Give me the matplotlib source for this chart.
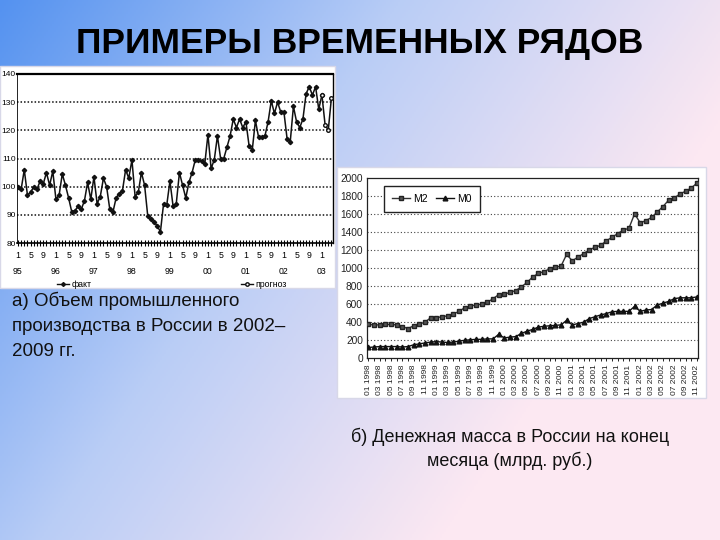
import numpy as np
import matplotlib
matplotlib.use("Agg")
import matplotlib.pyplot as plt
from matplotlib.patches import Rectangle
from matplotlib.lines import Line2D

plt.rcParams['font.family'] = ['Liberation Sans', 'DejaVu Sans']

# ---------- data: industrial production index (Jan 1995 ...) ----------
prod_fact = [100, 99, 106, 97, 98, 100, 99, 102, 101, 105,
             100.5, 105.5, 95.5, 97, 104.5, 100.5, 96, 91, 91.5, 93,
             92, 95, 101.5, 95.5, 103.5, 94, 96.5, 103, 100, 92,
             91, 96, 97.5, 98.5, 106, 103, 109.5, 96.5, 98, 105,
             100.5, 89.5, 88.5, 87.5, 86, 84, 94, 93.5, 102, 93,
             94, 105, 100.5, 96, 101.5, 105, 109.5, 109.5, 109, 108,
             118.5, 106.5, 109.5, 118, 110, 110, 114, 118, 124, 121,
             124, 121, 123, 114.5, 113, 123.5, 117.5, 117.5, 118, 123,
             130.5, 126, 130, 126.5, 126.5, 117, 116, 128.5, 123, 121,
             124, 133, 135.5, 132.5, 135.5, 127.5, 132.5]
prod_forecast = [132.5, 122, 120, 131.5]   # starts at last fact point
month_ticks = ["1", "5", "9"]
year_labels = ["95", "96", "97", "98", "99", "00", "01", "02", "03"]

# ---------- data: money supply, bln rub (Jan 1998 ... Nov 2002) ----------
m2 = [375, 370, 370, 375, 375, 370, 350, 330, 360, 380,
      400, 450, 450, 460, 470, 490, 520, 560, 580, 590,
      600, 620, 660, 705, 710, 730, 750, 790, 840, 900,
      940, 960, 990, 1010, 1020, 1150, 1080, 1120, 1160, 1200,
      1230, 1250, 1300, 1340, 1380, 1420, 1440, 1600, 1500, 1525,
      1560, 1620, 1680, 1750, 1775, 1820, 1850, 1885, 1940]
m0 = [120, 125, 130, 130, 130, 130, 125, 130, 150, 160,
      170, 180, 185, 180, 175, 180, 190, 200, 205, 210,
      210, 215, 215, 265, 225, 235, 240, 275, 300, 320,
      345, 355, 360, 365, 370, 420, 370, 385, 400, 440,
      460, 480, 495, 515, 520, 520, 520, 575, 520, 535,
      540, 590, 610, 630, 660, 670, 670, 670, 680]
start_year = 1998

W, H = 720, 540
fig = plt.figure(figsize=(7.2, 5.4), dpi=100)

# ---------- background gradient ----------
bg = fig.add_axes([0, 0, 1, 1], zorder=-5)
bg.set_axis_off()
xx, yy = np.meshgrid(np.linspace(0, 1, 360), np.linspace(0, 1, 270))
t = np.clip(xx * 0.9 + yy * 0.45, 0, 1)
c0 = np.array([84, 146, 240]) / 255
c1 = np.array([185, 205, 246]) / 255
c2 = np.array([252, 232, 242]) / 255
img = np.where(t[..., None] < 0.5,
               c0 + (c1 - c0) * (t[..., None] / 0.5),
               c1 + (c2 - c1) * ((t[..., None] - 0.5) / 0.5))
bg.imshow(img, extent=[0, 1, 0, 1], aspect='auto', origin='upper', zorder=0)
bg.set_xlim(0, 1); bg.set_ylim(0, 1)

def px_rect(x0, y0, x1, y1):
    return [x0 / W, 1 - y1 / H, (x1 - x0) / W, (y1 - y0) / H]

# white image boxes (drawn in the background axes)
for (x0, y0, x1, y1) in [(0, 66, 335, 288), (337, 167, 706, 398)]:
    r = px_rect(x0, y0, x1, y1)
    bg.add_patch(Rectangle((r[0], r[1]), r[2], r[3], facecolor='white',
                           edgecolor='#d8d8e8', lw=1, zorder=2))

# ---------- title ----------
fig.text(360 / W, 1 - 43 / H, "ПРИМЕРЫ ВРЕМЕННЫХ РЯДОВ", ha='center', va='center',
         fontsize=25.5, fontweight='bold', color='black')

# ---------- chart 1 ----------
ax1 = fig.add_axes(px_rect(17, 74, 333, 243))
ax1.set_facecolor('none')
n_f = len(prod_fact)
xf = np.arange(n_f)
xp = np.arange(n_f - 1, n_f - 1 + len(prod_forecast))
ax1.plot(xf, prod_fact, color='#111111', lw=1.1, marker='D', ms=2.2, zorder=3)
ax1.plot(xp, prod_forecast, color='#111111', lw=1.1, marker='o', ms=2.6,
         mfc='white', mec='#111111', zorder=3)
ax1.set_ylim(80, 140)
ax1.set_xlim(-0.3, xp[-1] + 0.5)
ax1.set_yticks(range(80, 141, 10))
ax1.tick_params(axis='y', labelsize=6, length=0, pad=1)
for v in range(90, 140, 10):
    ax1.axhline(v, color='#111111', lw=1.1, ls=(0, (1, 1.3)), zorder=2)
tpos = list(range(0, xp[-1] + 1, 4))
tlab = []
for p in tpos:
    lab = month_ticks[(p % 12) // 4]
    if p % 12 == 0:
        lab = lab + "\n" + year_labels[p // 12]
    tlab.append(lab)
ax1.set_xticks(tpos)
ax1.set_xticklabels(tlab, fontsize=6.3, linespacing=1.9)
ax1.set_xticks(range(0, xp[-1] + 1), minor=True)
ax1.tick_params(axis='x', which='both', direction='inout', length=4, width=0.8, pad=4)
ax1.spines['top'].set_linewidth(1.6)
ax1.spines['bottom'].set_linewidth(1.2)
ax1.spines['left'].set_linewidth(0.6)
ax1.spines['right'].set_linewidth(1.0)
h1 = [Line2D([], [], color='#111111', lw=1, marker='D', ms=2),
      Line2D([], [], color='#111111', lw=1, marker='o', ms=2.5, mfc='white')]
ax1.legend(h1, ["факт", "прогноз"], loc='upper center', bbox_to_anchor=(0.49, -0.17),
           ncol=2, frameon=False, fontsize=6.3, columnspacing=17, handlelength=1.4,
           handletextpad=0.3)

# ---------- chart 2 ----------
ax2 = fig.add_axes(px_rect(367, 177.7, 698, 358.3))
ax2.set_facecolor('none')
xm = np.arange(len(m2))
ax2.plot(xm, m2, color='#333333', lw=1.0, marker='s', ms=3.0, mfc='#555555',
         mec='#222222', label='M2', zorder=3)
ax2.plot(xm, m0, color='#111111', lw=1.0, marker='^', ms=3.4, mfc='#111111',
         mec='#111111', label='M0', zorder=3)
ax2.set_ylim(0, 2000)
ax2.set_xlim(-0.25, len(m2) - 0.8)
ax2.set_yticks(range(0, 2001, 200))
ax2.tick_params(axis='y', labelsize=7.3, length=0, pad=3, colors='#222222')
for v in range(200, 2000, 200):
    ax2.axhline(v, color='#444444', lw=0.8, ls=(0, (1, 2)), zorder=2)
xt = list(range(0, len(m2), 2))
ax2.set_xticks(xt)
ax2.set_xticklabels([f"{m % 12 + 1:02d} {start_year + m // 12}" for m in xt],
                    rotation=90, fontsize=6, color='#222222')
ax2.set_xticks(range(len(m2)), minor=True)
ax2.tick_params(axis='x', which='both', direction='out', length=2.5, width=0.6, pad=2)
for s in ax2.spines.values():
    s.set_linewidth(0.9)
    s.set_color('#222222')
ax2.legend(loc='upper left', bbox_to_anchor=(0.035, 0.985), ncol=2, fontsize=7.5,
           frameon=True, fancybox=False, edgecolor='#222222', framealpha=1,
           handlelength=1.7, columnspacing=0.8, handletextpad=0.3, borderpad=0.8)

# ---------- captions ----------
fig.text(12 / W, 1 - 326 / H, "а) Объем промышленного\nпроизводства в России в 2002–\n2009 гг.",
         ha='left', va='center', fontsize=13.5, linespacing=1.6, color='#111111')
fig.text(510 / W, 1 - 449 / H, "б) Денежная масса в России на конец\nмесяца (млрд. руб.)",
         ha='center', va='center', fontsize=13, linespacing=1.35, color='#111111')

fig.savefig("out.png", dpi=100)
